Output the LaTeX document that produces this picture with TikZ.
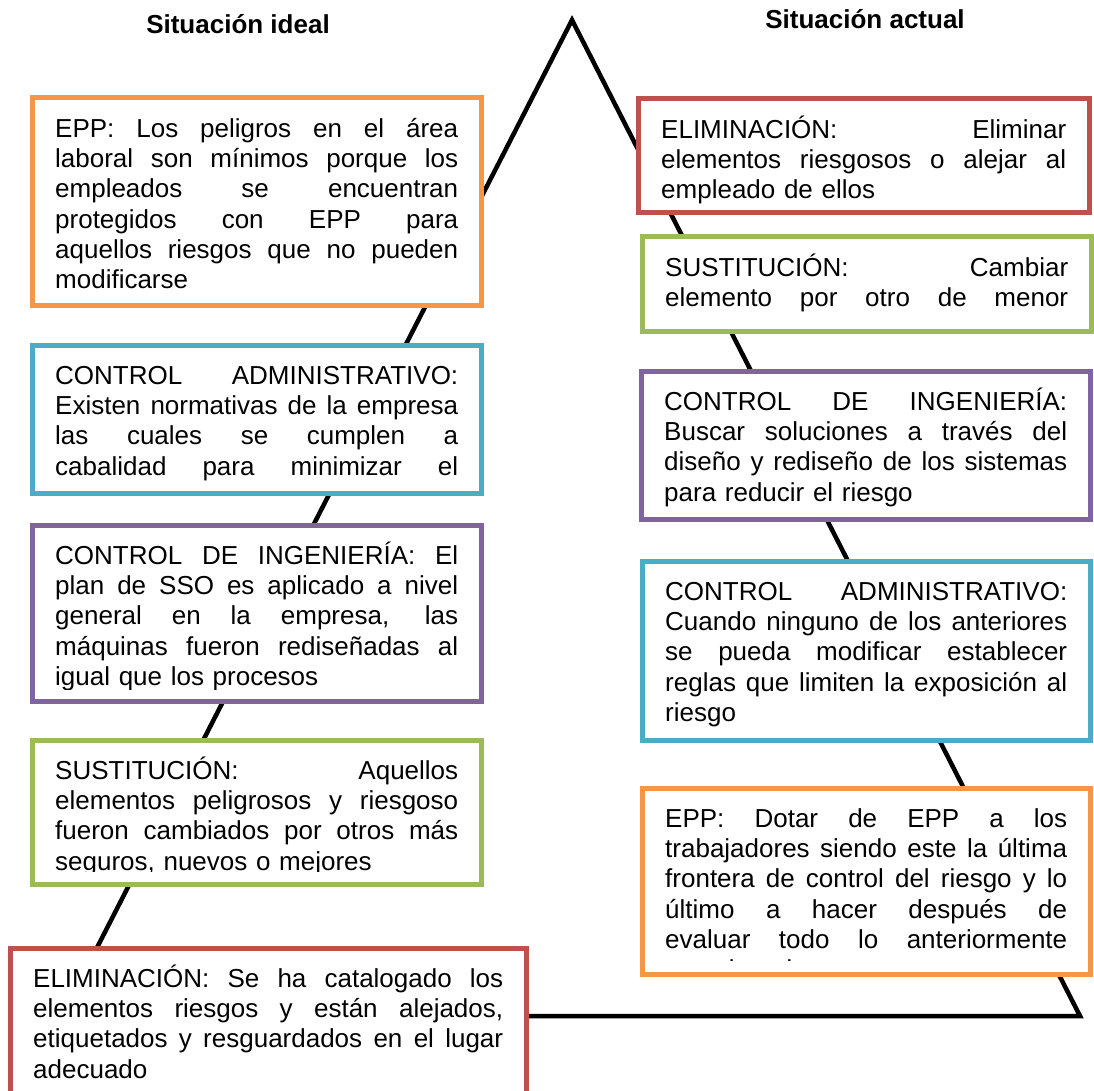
\documentclass[tikz,border=0pt]{standalone}
\usepackage{fontspec}
\setmainfont{Liberation Sans}
\definecolor{cOrange}{HTML}{F79646}
\definecolor{cRed}{HTML}{C0504D}
\definecolor{cGreen}{HTML}{9BBB59}
\definecolor{cCyan}{HTML}{4BACC6}
\definecolor{cPurple}{HTML}{8064A2}
\newlength{\jw}
\newcommand{\jl}[1]{\noindent\hbox to \jw{\spaceskip=\fontdimen2\font plus 1fil\relax #1}\par}
\newcommand{\fl}{\rule{0pt}{25pt}}
\newcommand{\mkbox}[8]{%
  \pgfmathsetmacro{\tw}{#4-#2-46}%
  \setlength{\jw}{\tw pt}%
  \fill[white] (#2,#3) rectangle (#4,#5);
  \begin{scope}
    \clip (#2,#3) rectangle (#4,#6);
    \node[txt, text width=\tw pt] (#1) at ({#2+23},{#3+14}) {#8};
  \end{scope}
  \draw[boxline, draw=#7] (#2,#3) rectangle (#4,#5);
}
\begin{document}
\begin{tikzpicture}[x=1pt,y=-1pt,
  txt/.style={inner sep=0pt, anchor=north west, font=\fontsize{26}{30.3}\selectfont},
  boxline/.style={line width=5pt},
  tri/.style={line width=4.5pt, line join=miter},
  title/.style={inner sep=0pt, anchor=base, font=\fontsize{26}{30}\selectfont\bfseries}]
\useasboundingbox (0,0) rectangle (1094,1091);
\clip (0,0) rectangle (1094,1091);
\fill[white] (0,0) rectangle (1094,1091);

\node[title] (t1) at (238,34) {Situación ideal};
\node[title] (t2) at (865,29) {Situación actual};

\coordinate (apex) at (572,20);
\coordinate (bl) at (62,1016);
\coordinate (br) at (1080,1016);
\draw[tri] (apex) -- (bl) -- (br) -- cycle;

% left column
\mkbox{L1}{32}{98}{481}{305}{300}{cOrange}{%
\jl{\fl EPP: Los peligros en el área}
\jl{laboral son mínimos porque los}
\jl{empleados se encuentran}
\jl{protegidos con EPP para}
\jl{aquellos riesgos que no pueden}
modificarse}

\mkbox{L2}{32}{345}{481}{493}{482}{cCyan}{%
\jl{\fl CONTROL ADMINISTRATIVO:}
\jl{Existen normativas de la empresa}
\jl{las cuales se cumplen a}
\jl{cabalidad para minimizar el}}

\mkbox{L3}{32}{525}{481}{701}{689}{cPurple}{%
\jl{\fl CONTROL DE INGENIERÍA: El}
\jl{plan de SSO es aplicado a nivel}
\jl{general en la empresa, las}
\jl{máquinas fueron rediseñadas al}
igual que los procesos}

\mkbox{L4}{32}{740}{481}{884}{871}{cGreen}{%
\jl{\fl SUSTITUCIÓN: Aquellos}
\jl{elementos peligrosos y riesgoso}
\jl{fueron cambiados por otros más}
seguros, nuevos o mejores}

\mkbox{L5}{10}{948}{526}{1110}{1110}{cRed}{%
\jl{\fl ELIMINACIÓN: Se ha catalogado los}
\jl{elementos riesgos y están alejados,}
\jl{etiquetados y resguardados en el lugar}
adecuado}

% right column
\mkbox{R1}{638}{99}{1089}{213}{205}{cRed}{%
\jl{\fl ELIMINACIÓN: Eliminar}
\jl{elementos riesgosos o alejar al}
empleado de ellos}

\mkbox{R2}{642}{237}{1091}{331}{320}{cGreen}{%
\jl{\fl SUSTITUCIÓN: Cambiar}
\jl{elemento por otro de menor}}

\mkbox{R3}{641}{371}{1090}{519}{510}{cPurple}{%
\jl{\fl CONTROL DE INGENIERÍA:}
\jl{Buscar soluciones a través del}
\jl{diseño y rediseño de los sistemas}
para reducir el riesgo}

\mkbox{R4}{642}{561}{1090}{740}{730}{cCyan}{%
\jl{\fl CONTROL ADMINISTRATIVO:}
\jl{Cuando ninguno de los anteriores}
\jl{se pueda modificar establecer}
\jl{reglas que limiten la exposición al}
riesgo}

\mkbox{R5}{642}{788}{1090}{974}{960}{cOrange}{%
\jl{\fl EPP: Dotar de EPP a los}
\jl{trabajadores siendo este la última}
\jl{frontera de control del riesgo y lo}
\jl{último a hacer después de}
\jl{evaluar todo lo anteriormente}
mencionado}
\end{tikzpicture}
\end{document}
